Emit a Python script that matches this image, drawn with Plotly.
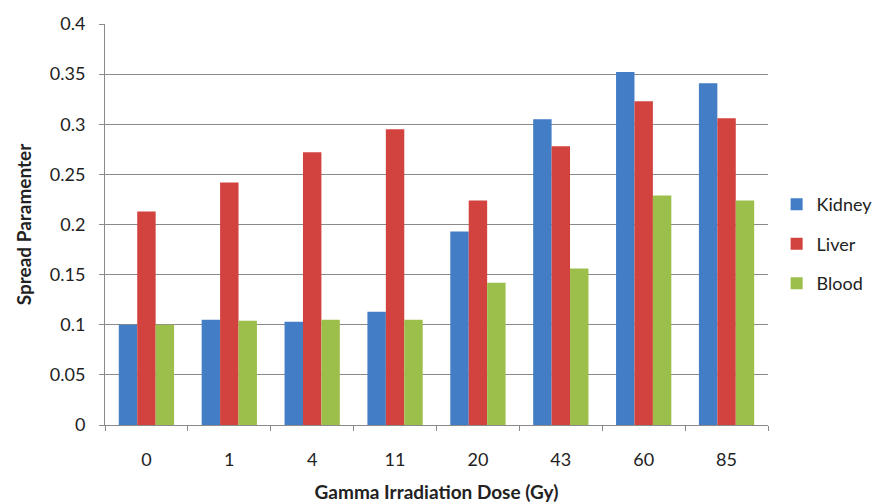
import plotly.graph_objects as go

doses = ["0", "1", "4", "11", "20", "43", "60", "85"]
kidney = [0.100, 0.105, 0.103, 0.113, 0.193, 0.305, 0.352, 0.341]
liver = [0.213, 0.242, 0.272, 0.295, 0.224, 0.278, 0.323, 0.306]
blood = [0.100, 0.104, 0.105, 0.105, 0.142, 0.156, 0.229, 0.224]

series = [("Kidney", kidney, "#437DC6"), ("Liver", liver, "#D2433F"), ("Blood", blood, "#9BBF4A")]

FONT = "Lato"
TXT = "#222222"
fig = go.Figure()
for name, vals, col in series:
    fig.add_trace(go.Bar(name=name, x=doses, y=vals, marker=dict(color=col, line=dict(width=0)),
                         legendgroup=name))

fig.update_layout(
    width=890, height=504,
    margin=dict(l=105, r=117, t=24, b=79),
    paper_bgcolor="white", plot_bgcolor="white",
    barmode="group", bargap=0.333, bargroupgap=0,
    font=dict(family=FONT, size=18, color=TXT),
    legend=dict(x=1.013, xanchor="left", y=0.451, yanchor="middle",
                tracegroupgap=13, font=dict(size=18, color=TXT),
                itemwidth=30, bgcolor="rgba(0,0,0,0)"),
    showlegend=True,
)
fig.update_yaxes(range=[0, 0.4], dtick=0.05, tickformat="~g",
                 showgrid=True, gridcolor="#8a8a8a", gridwidth=1,
                 showline=True, linecolor="#8a8a8a", linewidth=1,
                 ticks="outside", ticklen=5, tickcolor="#8a8a8a",
                 ticklabelstandoff=10,
                 tickfont=dict(size=18, color=TXT),
                 zeroline=False, automargin=False,
                 title=dict(text="<b>Spread Paramenter</b>", font=dict(size=19), standoff=13))
fig.update_xaxes(showline=True, linecolor="#8a8a8a", linewidth=1,
                 ticks="outside", ticklen=5, tickcolor="#8a8a8a", tickson="boundaries",
                 ticklabelstandoff=18, automargin=False,
                 tickfont=dict(size=18, color=TXT),
                 title=dict(text="<b>Gamma Irradiation Dose (Gy)</b>", font=dict(size=19), standoff=17))

fig.write_html("out.html")
